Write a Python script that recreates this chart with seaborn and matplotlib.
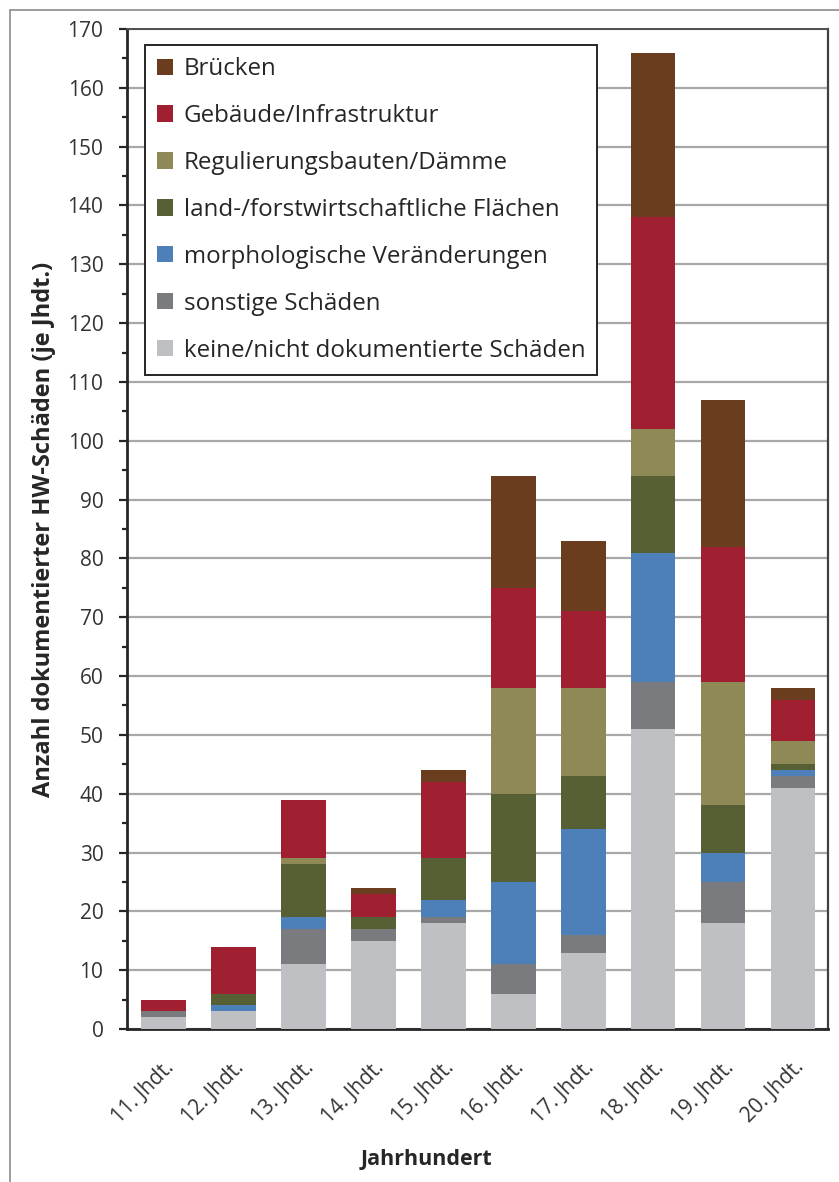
import matplotlib
matplotlib.use("Agg")
import matplotlib.pyplot as plt
import matplotlib.patches as mpatches
from matplotlib.lines import Line2D
from matplotlib.ticker import MultipleLocator
import seaborn as sns
import pandas as pd
import numpy as np

centuries = ["11. Jhdt.", "12. Jhdt.", "13. Jhdt.", "14. Jhdt.", "15. Jhdt.",
             "16. Jhdt.", "17. Jhdt.", "18. Jhdt.", "19. Jhdt.", "20. Jhdt."]

# stacked from bottom to top
keine     = [2, 3, 11, 15, 18, 6, 13, 51, 18, 41]
sonstige  = [1, 0, 6, 2, 1, 5, 3, 8, 7, 2]
morpho    = [0, 1, 2, 0, 3, 14, 18, 22, 5, 1]
land      = [0, 2, 9, 2, 7, 15, 9, 13, 8, 1]
regulier  = [0, 0, 1, 0, 0, 18, 15, 8, 21, 4]
gebaeude  = [2, 8, 10, 4, 13, 17, 13, 36, 23, 7]
bruecken  = [0, 0, 0, 1, 2, 19, 12, 28, 25, 2]

series_names = ["keine/nicht dokumentierte Schäden", "sonstige Schäden",
                "morphologische Veränderungen", "land-/forstwirtschaftliche Flächen",
                "Regulierungsbauten/Dämme", "Gebäude/Infrastruktur", "Brücken"]
series_values = [keine, sonstige, morpho, land, regulier, gebaeude, bruecken]
colors = ["#BFC0C4", "#7A7B7F", "#4D7FB9", "#566034", "#8F8957", "#A01F30", "#6A3D1F"]

sns.set_theme(style="white")
plt.rcParams["font.family"] = ["Open Sans", "DejaVu Sans"]

fig = plt.figure(figsize=(8.39, 11.82), dpi=100)
ax = fig.add_axes([127/839, 1 - 1029/1182, (828-127)/839, (1029-29)/1182])

cum = np.cumsum(np.array(series_values), axis=0)
# draw from the tallest cumulative layer down so lower layers overlay
for i in range(len(series_values) - 1, -1, -1):
    df = pd.DataFrame({"cent": centuries, "val": cum[i]})
    sns.barplot(data=df, x="cent", y="val", color=colors[i], width=0.64,
                saturation=1, edgecolor="none", linewidth=0, ax=ax, zorder=3)

ax.set_ylim(0, 170)
ax.set_xlim(-0.52, 9.5)
ax.yaxis.set_major_locator(MultipleLocator(10))
ax.yaxis.set_minor_locator(MultipleLocator(5))
ax.grid(axis="y", which="major", color="#A8A8A8", linewidth=1.6, zorder=0)
ax.set_axisbelow(True)

for s in ["left", "bottom"]:
    ax.spines[s].set_color("#262626")
    ax.spines[s].set_linewidth(2.0)
ax.spines["right"].set_color("#404040")
ax.spines["right"].set_linewidth(1.6)
ax.spines["top"].set_color("#505050")
ax.spines["top"].set_linewidth(1.4)

ax.tick_params(axis="y", which="major", left=True, length=6, width=1.6, color="#262626",
               labelsize=15, labelcolor="#333333", pad=11)
ax.tick_params(axis="y", which="minor", left=True, length=3.5, width=1.6, color="#262626")
ax.tick_params(axis="x", bottom=False, labelsize=15, labelcolor="#333333", pad=14)
plt.setp(ax.get_xticklabels(), rotation=45, ha="right", va="top", rotation_mode="anchor")

ax.set_xlabel("Jahrhundert", fontsize=15.5, fontweight="bold", color="#262626")
ax.xaxis.set_label_coords(0.427, -0.12)
ax.set_ylabel("Anzahl dokumentierter HW-Schäden (je Jhdt.)", fontsize=17,
              fontweight="bold", color="#262626", labelpad=8)

handles = [mpatches.Patch(facecolor=colors[i], edgecolor="none", label=series_names[i])
           for i in range(len(series_names) - 1, -1, -1)]
leg = ax.legend(handles=handles, loc="upper left",
                bbox_to_anchor=((145-127)/701, 1 - (45-29)/1000),
                fontsize=17.4, frameon=True, fancybox=False, framealpha=1,
                edgecolor="#262626", handlelength=0.65, handleheight=0.65,
                handletextpad=0.45, labelspacing=0.95, borderpad=0.5,
                borderaxespad=0)
leg.get_frame().set_linewidth(1.4)
for t in leg.get_texts():
    t.set_color("#262626")
leg.set_zorder(5)

# outer chart frame (left and top edges visible)
fig.add_artist(Line2D([10/839, 10/839], [0, 1 - 10/1182], transform=fig.transFigure,
                      color="#8C8C8C", linewidth=1.2))
fig.add_artist(Line2D([10/839, 1], [1 - 10/1182, 1 - 10/1182], transform=fig.transFigure,
                      color="#8C8C8C", linewidth=1.2))

fig.savefig("out.png", dpi=100)
